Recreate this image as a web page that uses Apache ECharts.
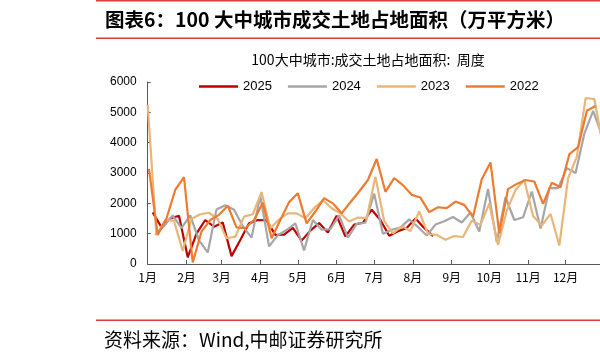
<!DOCTYPE html>
<html>
<head>
<meta charset="utf-8">
<script src="https://cdn.jsdelivr.net/npm/echarts@6/dist/echarts.min.js"></script>
<style>html,body{margin:0;padding:0;background:#fff;}#c{width:600px;height:363px;}</style>
</head>
<body>
<div id="c"></div>
<script>
// ---- data ----
const seriesNames = ['2025', '2024', '2023', '2022'];
const monthLabels = ['1月','2月','3月','4月','5月','6月','7月','8月','9月','10月','11月','12月'];
const monthStartDays = [0, 31, 59, 90, 120, 151, 181, 212, 243, 273, 304, 334];
// first weekly observation, day of year (weekly data, every 7 days)
const firstDay2025 = 4, firstDay2024 = 6, firstDay2023 = 0, firstDay2022 = 1;
const values2025 = [1700,1210,1500,1590,220,1000,1450,1230,1370,260,790,1340,1450,1440,960,970,1190,770,1100,1350,1040,1590,910,1300,1360,1790,1450,930,1080,1190,1500,1190,920];
const values2024 = [960,1250,1600,1180,1600,780,380,1800,1940,1790,1250,870,2240,580,950,1120,1340,450,1450,1130,1150,1600,870,1320,1360,2320,1000,1130,1200,1470,1220,940,1300,1410,1550,1370,1700,1070,2470,720,2200,1450,1540,2390,1170,2500,2500,3160,3000,4300,5050,4250];
const values2023 = [5250,960,1450,1420,430,1490,1640,1690,1480,850,900,1560,1640,2370,1180,1470,1670,1670,1510,1840,2100,1840,1670,1400,1530,1510,2880,1420,1010,1250,1090,1730,990,960,800,920,890,1430,1290,1990,630,1760,2440,2770,1580,1270,1650,610,2830,3540,5470,5440,3850];
const values2022 = [3135,960,1500,2440,2860,50,1070,1450,1620,1920,1210,1180,1450,2020,850,1450,2040,2330,1340,1730,2170,2000,1670,2035,2390,2770,3460,2380,2830,2600,2280,2190,1710,1870,1840,2060,1950,1560,2790,3350,1010,2470,2640,2770,2720,1980,2680,2530,3620,3850,5050,5210];

function weekly(first, vals) { return vals.map((v, i) => [first + 7 * i, v]); }

const colors = ['#C00000', '#A6A6A6', '#E9B67A', '#EE7B30'];
const latin = 'Liberation Sans, Arial, sans-serif';
const cjk = 'Noto Sans CJK SC, sans-serif';

const chart = echarts.init(document.getElementById('c'), null, {renderer: 'canvas'});
const mk = (name, first, vals, color) => ({
  name: name, type: 'line', data: weekly(first, vals), showSymbol: false, symbol: 'none',
  lineStyle: {color: color, width: 2.2}, itemStyle: {color: color}, z: 2
});
chart.setOption({
  animation: false,
  color: colors,
  grid: {left: 147.7, right: 0, top: 82, bottom: 99, containLabel: false},
  legend: {
    data: seriesNames, left: 194, top: 75, icon: 'rect', itemWidth: 39, itemHeight: 2.5,
    itemGap: 16, textStyle: {fontSize: 13, color: '#000', fontFamily: latin}
  },
  xAxis: {
    type: 'value', min: 0, max: 361.5,
    axisLine: {show: true, lineStyle: {color: '#595959', width: 1}},
    axisTick: {show: true, inside: true, length: 4, customValues: monthStartDays, lineStyle: {color: '#595959'}},
    axisLabel: {customValues: monthStartDays, fontSize: 12, color: '#000', fontFamily: cjk, margin: 7,
      formatter: v => monthLabels[monthStartDays.indexOf(v)] || ''},
    splitLine: {show: false}
  },
  yAxis: {
    type: 'value', min: 0, max: 6000, interval: 1000,
    axisLine: {show: true, lineStyle: {color: '#595959', width: 1}},
    axisTick: {show: true, inside: true, length: 3, lineStyle: {color: '#595959'}},
    axisLabel: {fontSize: 12, color: '#000', fontFamily: latin, margin: 11, formatter: v => String(v)},
    splitLine: {show: false}
  },
  graphic: [
    {type: 'rect', shape: {x: 96, y: 0, width: 504, height: 1.5}, style: {fill: '#E0393E'}},
    {type: 'text', left: 105, top: 10, style: {text: '图表6：100 大中城市成交土地占地面积（万平方米）', font: 'bold 19.5px Noto Sans CJK SC', fill: '#000'}},
    {type: 'rect', shape: {x: 96, y: 37.5, width: 504, height: 1.5}, style: {fill: '#E0393E'}},
    {type: 'text', x: 368, y: 60, style: {text: '100大中城市:成交土地占地面积:  周度', font: '14px Noto Sans CJK SC', fill: '#000', align: 'center', verticalAlign: 'middle'}},
    {type: 'rect', shape: {x: 96, y: 319.5, width: 504, height: 1.5}, style: {fill: '#E0393E'}},
    {type: 'text', x: 104, y: 339.5, style: {text: '资料来源：Wind,中邮证券研究所', font: '19px Noto Sans CJK SC', fill: '#000', verticalAlign: 'middle'}}
  ],
  series: [
    mk('2025', firstDay2025, values2025, colors[0]),
    mk('2024', firstDay2024, values2024, colors[1]),
    mk('2023', firstDay2023, values2023, colors[2]),
    mk('2022', firstDay2022, values2022, colors[3])
  ]
});
</script>
</body>
</html>
